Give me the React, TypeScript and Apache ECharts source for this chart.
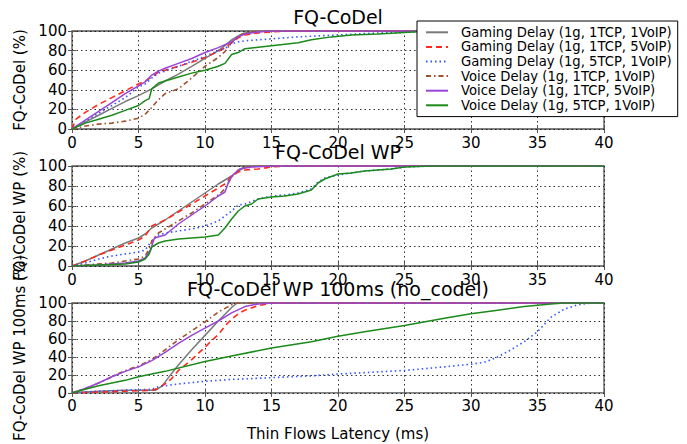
import React, { useEffect, useRef } from "react";
import * as echarts from "echarts";

const seriesNames = [
  "Gaming Delay (1g, 1TCP, 1VoIP)",
  "Gaming Delay (1g, 1TCP, 5VoIP)",
  "Gaming Delay (1g, 5TCP, 1VoIP)",
  "Voice Delay (1g, 1TCP, 1VoIP)",
  "Voice Delay (1g, 1TCP, 5VoIP)",
  "Voice Delay (1g, 5TCP, 1VoIP)",
];

const panelTitles = ["FQ-CoDel", "FQ-CoDel WP", "FQ-CoDel WP 100ms (no_codel)"];
const yAxisNames = ["FQ-CoDel (%)", "FQ-CoDel WP (%)", "FQ-CoDel WP 100ms (%)"];
const xAxisName = "Thin Flows Latency (ms)";

// Panel 1: FQ-CoDel  [latency ms, CDF %]
const fqGaming1T1V = [[0,0],[1,7],[2,14],[3,21],[4,28],[5,34],[6,41],[7,49],[8,56],[9,64],[10,72],[11,80],[11.5,85],[12,91],[12.5,95],[13,98],[14,99.5],[15,100],[40,100]];
const fqGaming1T5V = [[0,0],[0.3,10],[1,17],[2,25],[3,32],[4,39],[5,46],[5.5,49],[6,53],[6.5,58],[7,60],[8,64],[9,68],[10,73],[11,79],[11.5,83],[12,88],[12.5,93],[13,96],[14,98],[15,99],[16,100],[40,100]];
const fqGaming5T1V = [[0,0],[1,8],[2,16],[3,24],[4,32],[5,43],[5.5,46],[6,52],[6.5,57],[7,59],[8,64],[9,69],[10,74],[11,80],[11.5,82],[12,87],[12.5,89],[13,90],[15,92],[17,94],[20,96],[23,98],[26,99],[30,100],[40,100]];
const fqVoice1T1V = [[0,0],[1,3],[2,5],[3,6],[4,8],[5,11],[5.5,15],[6,22],[6.5,30],[7,36],[8,41],[9,52],[10,64],[11,73],[11.5,79],[12,88],[12.5,95],[13,98],[14,100],[40,100]];
const fqVoice1T5V = [[0,0],[1,9],[2,18],[3,27],[4,36],[5,44],[5.5,48],[6,55],[6.5,59],[7,62],[8,67],[9,72],[10,78],[11,83],[12,89],[12.5,94],[13,97],[14,99],[15,100],[40,100]];
const fqVoice5T1V = [[0,0],[0.5,3],[1,6],[2,10],[3,14],[4,19],[5,24],[5.5,29],[5.8,31],[6,41],[6.5,47],[7,49],[8,53],[9,57],[10,60],[11,64],[11.5,67],[12,76],[12.5,78],[13,82],[15,85],[17,88],[18,91],[19.5,94],[21,96],[23,97],[25,98.5],[27,100],[40,100]];

// Panel 2: FQ-CoDel WP
const wpGaming1T1V = [[0,0],[1,5],[2,11],[3,17],[4,23],[5,28],[5.5,32],[6,38],[7,46],[8,55],[9,64],[10,73],[11,82],[12,90],[12.5,95],[13,99],[14,100],[40,100]];
const wpGaming1T5V = [[0,0],[1,5],[2,11],[3,16],[4,21],[5,26],[5.5,30],[6,40],[7,46],[8,54],[9,62],[10,70],[11,78],[11.5,82],[12,90],[12.5,94],[13,96],[14,97],[15,99],[16,100],[40,100]];
const wpGaming5T1V = [[0,0],[1,3],[2,7],[3,10],[4,12],[5,14],[5.5,16],[6,25],[6.5,31],[7,33],[8,35],[9,37],[10,40],[11,45],[11.5,50],[12,55],[12.5,61],[13,62],[14,67],[15,70],[16,71],[17,73],[18,77],[18.5,84],[19,88],[20,91],[21,93],[22,95],[24,97],[25,99],[27,100],[40,100]];
const wpVoice1T1V = [[0,0],[1,1],[3,3],[5,7],[5.5,10],[5.8,17],[6,25],[6.5,33],[7,37],[7.5,41],[8,45],[9,53],[10,62],[11,71],[11.5,77],[12,89],[12.5,96],[13,99],[14,100],[40,100]];
const wpVoice1T5V = [[0,0],[2,1],[4,3],[5,5],[5.5,8],[5.9,16],[6.2,28],[7,31],[8,42],[9,51],[10,60],[11,70],[11.5,74],[11.8,85],[12.1,91],[12.6,97],[13.5,99],[15,100],[40,100]];
const wpVoice5T1V = [[0,0],[2,1],[4,2],[5,4],[5.5,7],[5.8,12],[6,19],[6.5,23],[7,25],[8,27],[9,28],[10,29],[11,31],[11.5,38],[12,47],[12.5,55],[13,60],[13.5,62],[14,67],[15,69],[16,70],[17,72],[18,76],[18.5,83],[19,87],[20,92],[21,93],[22,95],[24,97],[25,99],[27,100],[40,100]];

// Panel 3: FQ-CoDel WP 100ms (no_codel)
const ncGaming1T1V = [[0,0],[1,1],[2,2],[4,3],[6.3,3],[6.7,7],[7,12],[7.5,22],[8,31],[9,48],[10,64],[11,80],[12,95],[12.4,100],[40,100]];
const ncGaming1T5V = [[0,0],[2,1],[4,2],[6,3],[6.5,5],[7,10],[7.5,16],[8,25],[9,37],[10,51],[11,65],[11.6,76],[12,82],[12.6,89],[13,92],[14,97],[15,100],[40,100]];
const ncGaming5T1V = [[0,0],[2,2],[4,3],[6,4],[6.5,7],[8,10],[10,13],[12,15],[15,17],[18,19],[20,21],[25,25],[28,29],[30,32],[31,34],[32,40],[33,48],[34,57],[35,68],[36,84],[37,93],[38,98],[39,100],[40,100]];
const ncVoice1T1V = [[0,0],[1,5],[2,11],[3,18],[4,25],[5,30],[6,37],[7,48],[8,59],[9,69],[10,79],[11,90],[11.5,94],[12,98],[12.5,100],[40,100]];
const ncVoice1T5V = [[0,0],[1,5],[2,11],[3,18],[4,24],[5,29],[6,36],[7,45],[8,55],[9,64],[10,72],[11,80],[12,89],[13,96],[14,99],[15,100],[40,100]];
const ncVoice5T1V = [[0,0],[1,4],[2,8],[3,11],[4,14],[5,18],[7,24],[10,35],[12,41],[15,50],[18,57],[20,63],[22,68],[25,75],[28,83],[30,88],[32,92],[34,96],[35,97.5],[36,99],[37,100],[40,100]];

const panels = [
  [fqGaming1T1V, fqGaming1T5V, fqGaming5T1V, fqVoice1T1V, fqVoice1T5V, fqVoice5T1V],
  [wpGaming1T1V, wpGaming1T5V, wpGaming5T1V, wpVoice1T1V, wpVoice1T5V, wpVoice5T1V],
  [ncGaming1T1V, ncGaming1T5V, ncGaming5T1V, ncVoice1T1V, ncVoice1T5V, ncVoice5T1V],
];

const FONT = "DejaVu Sans";
const lineStyles: any[] = [
  { color: "#7a7a7a", type: "solid", width: 1.5 },
  { color: "#ff2a1a", type: [6, 4], width: 1.6 },
  { color: "#3355ff", type: [1.5, 3], width: 1.6 },
  { color: "#a0522d", type: [5, 3, 1.5, 3], width: 1.6 },
  { color: "#9a44d8", type: "solid", width: 1.5 },
  { color: "#1a8a1a", type: "solid", width: 1.5 },
];

const grids = [
  { left: 72, top: 31, width: 532, height: 98 },
  { left: 72, top: 166, width: 532, height: 100 },
  { left: 72, top: 303, width: 532, height: 99 },
];

export default function App() {
  const ref = useRef<HTMLDivElement>(null);
  useEffect(() => {
    if (!ref.current) return;
    const chart = echarts.init(ref.current, null, { renderer: "svg" });
    const splitLine = { show: true, lineStyle: { color: "#000", type: [1.5, 3], width: 0.8 } };
    const xAxes: any[] = [];
    const yAxes: any[] = [];
    const series: any[] = [];
    grids.forEach((g, i) => {
      xAxes.push({
        type: "value", gridIndex: i, min: 0, max: 40, interval: 5, position: "bottom",
        axisLine: { show: false },
        axisTick: { show: true, inside: true, length: 4, lineStyle: { color: "#555" } },
        axisLabel: { fontSize: 15, fontFamily: FONT, color: "#000", margin: 6 },
        splitLine,
        name: i === 2 ? xAxisName : "",
        nameLocation: "middle",
        nameGap: 34,
        nameTextStyle: { fontSize: 15, fontFamily: FONT, color: "#000" },
      });
      xAxes.push({
        type: "value", gridIndex: i, min: 0, max: 40, interval: 5, position: "top",
        axisLine: { show: false },
        axisTick: { show: true, inside: true, length: 4, lineStyle: { color: "#555" } },
        axisLabel: { show: false }, splitLine: { show: false },
      });
      yAxes.push({
        type: "value", gridIndex: i, min: 0, max: 100, interval: 20, position: "left",
        axisLine: { show: false },
        axisTick: { show: true, inside: true, length: 4, lineStyle: { color: "#555" } },
        axisLabel: { fontSize: 15, fontFamily: FONT, color: "#000", margin: 5 },
        splitLine,
        name: yAxisNames[i],
        nameLocation: "middle",
        nameRotate: 90,
        nameGap: 37,
        nameTextStyle: { fontSize: 15, fontFamily: FONT, color: "#000" },
      });
      yAxes.push({
        type: "value", gridIndex: i, min: 0, max: 100, interval: 20, position: "right",
        axisLine: { show: false },
        axisTick: { show: true, inside: true, length: 4, lineStyle: { color: "#555" } },
        axisLabel: { show: false }, splitLine: { show: false },
      });
      panels[i].forEach((data, k) => {
        series.push({
          type: "line",
          name: seriesNames[k],
          xAxisIndex: 2 * i,
          yAxisIndex: 2 * i,
          data,
          symbol: "none",
          showSymbol: false,
          lineStyle: lineStyles[k],
          itemStyle: { color: lineStyles[k].color },
          z: 2,
        });
      });
    });

    chart.setOption({
      animation: false,
      backgroundColor: "#fff",
      grid: grids.map((g) => ({ ...g, show: true, borderColor: "#555", borderWidth: 1.3, backgroundColor: "transparent" })),
      xAxis: xAxes,
      yAxis: yAxes,
      series,
      legend: {
        data: seriesNames,
        orient: "vertical",
        left: 417,
        top: 21,
        itemWidth: 22,
        itemHeight: 10,
        itemGap: 0,
        padding: [4, 6, 4, 8],
        backgroundColor: "#fff",
        borderColor: "#000",
        borderWidth: 1,
        borderRadius: 0,
        z: 10,
        itemStyle: { opacity: 0 },
        textStyle: { fontSize: 13.2, fontFamily: FONT, color: "#000", lineHeight: 14.6, padding: [0, 0, 0, 8] },
      },
      graphic: panelTitles.map((t, i) => ({
        type: "text",
        x: 338,
        y: grids[i].top - 14,
        z: 5,
        style: { text: t, fontSize: 19, fontFamily: FONT, fill: "#000", align: "center", verticalAlign: "middle" },
      })),
    });
    return () => chart.dispose();
  }, []);
  return <div ref={ref} style={{ position: "fixed", left: 0, top: 0, width: 687, height: 444 }} />;
}
